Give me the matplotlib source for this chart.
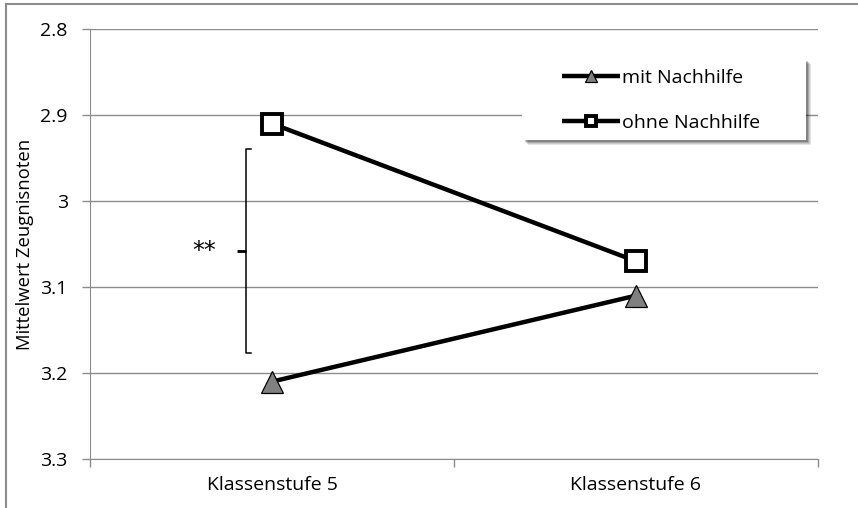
import matplotlib
matplotlib.use("Agg")
import matplotlib.pyplot as plt
from matplotlib.lines import Line2D
from matplotlib.patches import Rectangle

plt.rcParams['font.family'] = ['Open Sans', 'DejaVu Sans']

categories = ["Klassenstufe 5", "Klassenstufe 6"]
mit_nachhilfe = [3.21, 3.11]
ohne_nachhilfe = [2.91, 3.07]
y_ticks = [2.8, 2.9, 3.0, 3.1, 3.2, 3.3]
y_tick_labels = ["2.8", "2.9", "3", "3.1", "3.2", "3.3"]
bracket_range = [2.94, 3.177]
significance = "**"

W, H = 858, 508
fig = plt.figure(figsize=(W / 100, H / 100), dpi=100)
ax = fig.add_axes([90 / W, 1 - 459 / H, (818 - 90) / W, (459 - 29) / H])

x = list(range(len(categories)))
grid_c = "#8c8c8c"

ax.plot(x, mit_nachhilfe, color="black", lw=3.2, marker="^", ms=16.5,
        mfc="#808080", mec="black", mew=0.9, label="mit Nachhilfe", zorder=4,
        solid_capstyle="butt")
ax.plot(x, ohne_nachhilfe, color="black", lw=3.2, marker="s", ms=15,
        mfc="white", mec="black", mew=2.8, label="ohne Nachhilfe", zorder=4,
        solid_capstyle="butt")

ax.set_xlim(-0.5, 1.5)
ax.set_ylim(3.3, 2.8)
ax.set_yticks(y_ticks)
ax.set_yticklabels(y_tick_labels)
ax.set_xticks([-0.5, 0.5, 1.5])
ax.set_xticklabels([])
ax.set_xticks(x, minor=True)
ax.set_xticklabels(categories, minor=True)
ax.tick_params(axis="x", which="minor", length=0, pad=12, labelsize=14)
ax.tick_params(axis="x", which="major", length=6, color=grid_c, width=1)
ax.tick_params(axis="y", length=6, color=grid_c, width=1, labelsize=14, pad=10)
ax.grid(axis="y", color=grid_c, lw=1)
ax.set_axisbelow(True)
for s in ["top", "right"]:
    ax.spines[s].set_visible(False)
ax.spines["left"].set_color(grid_c)
ax.spines["bottom"].set_color(grid_c)
ax.set_ylabel("Mittelwert Zeugnisnoten", fontsize=13.3, labelpad=4.5)

# significance bracket
bx = -0.071
tip = 0.014
ax.plot([bx + tip, bx, bx, bx + tip],
        [bracket_range[0], bracket_range[0], bracket_range[1], bracket_range[1]],
        color="black", lw=1.1, zorder=3)
mid = (bracket_range[0] + bracket_range[1]) / 2
ax.plot([bx - 0.024, bx], [mid, mid], color="black", lw=2.0, zorder=3,
        solid_capstyle="butt")
ax.text(-0.186, mid, significance, ha="center", va="center", fontsize=17,
        family="DejaVu Sans")

# legend box with soft shadow (pixel box 522..806 x 57..140)
def px_box(x0, y0, x1, y1):
    return (x0 / W, 1 - y1 / H, (x1 - x0) / W, (y1 - y0) / H)

for i, a in enumerate([0.10, 0.12, 0.16, 0.22]):
    off = 5 - i
    bx0, by0, bw, bh = px_box(522 + off + 1, 57 + off + 2, 806 + off, 140 + off)
    fig.add_artist(Rectangle((bx0, by0), bw, bh, transform=fig.transFigure,
                             facecolor="black", edgecolor="none", alpha=a, zorder=5))
bx0, by0, bw, bh = px_box(522, 57, 806, 140)
fig.add_artist(Rectangle((bx0, by0), bw, bh, transform=fig.transFigure,
                         facecolor="white", edgecolor="none", zorder=5.5))

handles, labels = ax.get_legend_handles_labels()
leg = fig.legend(handles, labels, loc="upper left",
                 bbox_to_anchor=(562 / W, 1 - 69 / H),
                 bbox_transform=fig.transFigure,
                 frameon=False, fontsize=14, markerscale=0.5, handlelength=3.0,
                 handletextpad=0.1, labelspacing=1.4, borderpad=0,
                 borderaxespad=0)
leg.set_zorder(6)

# figure border (left and top)
fig.add_artist(Line2D([6 / W, 6 / W], [0, 1 - 4 / H], transform=fig.transFigure,
                      color="#8c8c8c", lw=1.5))
fig.add_artist(Line2D([6 / W, 1], [1 - 4 / H, 1 - 4 / H], transform=fig.transFigure,
                      color="#8c8c8c", lw=1.5))

fig.savefig("out.png", dpi=100)
